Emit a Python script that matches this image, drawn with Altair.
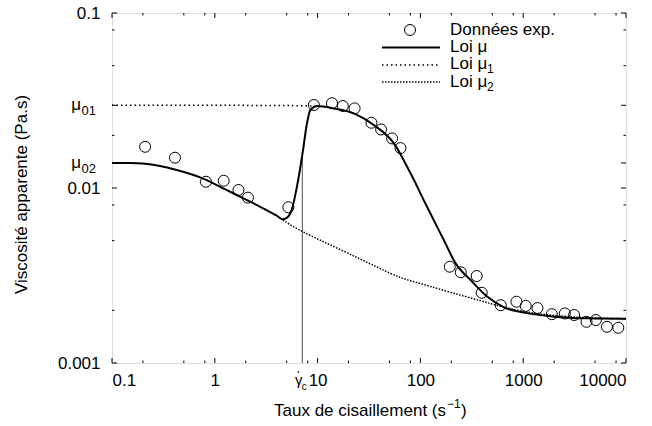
import altair as alt
import pandas as pd

# ---- data ----
gamma_exp = [0.21, 0.41, 0.82, 1.22, 1.70, 2.10, 5.2, 9.2, 13.8, 17.6, 22.9, 33.4, 41.5, 53.1, 64,
             193, 247, 353, 395, 605, 860, 1059, 1377, 1900, 2543, 3130, 4130, 5090, 6530, 8420]
mu_exp = [0.0172, 0.0149, 0.01086, 0.0110, 0.00975, 0.00881, 0.00776, 0.0298, 0.0305, 0.0294, 0.0285,
          0.0236, 0.0216, 0.0192, 0.0169, 0.00355, 0.0033, 0.00314, 0.00252, 0.00214, 0.00224, 0.00212,
          0.00206, 0.0019, 0.00192, 0.00188, 0.00172, 0.00176, 0.00161, 0.00159]

gamma_mu = [0.1, 0.15, 0.2, 0.294, 0.427, 0.72, 1.13, 1.77, 2.77, 4.0, 4.6, 5.1, 5.64, 6.3, 7.22, 7.78, 8.5,
            9.9, 14.4, 22.5, 35.2, 55.2, 80.2, 116, 169, 220, 308, 449, 652, 1021, 2000, 4230, 10000]
mu_mu = [0.0139, 0.0139, 0.0138, 0.01337, 0.01267, 0.0115, 0.01016, 0.0089, 0.00781, 0.00695, 0.00662,
         0.0068, 0.00760, 0.0102, 0.0165, 0.0224, 0.0279, 0.0294, 0.0285, 0.0267, 0.0229, 0.018, 0.01213,
         0.00781, 0.00504, 0.00371, 0.00298, 0.00239, 0.00208, 0.00194, 0.00184, 0.0018, 0.00179]

gamma_mu1 = [0.1, 1, 5, 9.5]
mu_mu1 = [0.0297, 0.0297, 0.0296, 0.0294]

gamma_mu2 = [4.6, 6.8, 16.7, 41, 64, 86, 184, 386, 605, 1014, 1987, 4260, 10000]
mu_mu2 = [0.00656, 0.00566, 0.00445, 0.00345, 0.00306, 0.00292, 0.00256, 0.00227, 0.00210, 0.00196,
          0.00186, 0.00181, 0.00179]

gamma_c = 7.1
mu_c_top = 0.015
mu01 = 0.0297
mu02 = 0.0139

x_major = [0.1, 1, 10, 100, 1000, 10000]
x_minor = [0.2, 0.5, 0.8, 2, 5, 8, 20, 50, 80, 200, 500, 800, 2000, 5000, 8000]
y_major = [0.001, 0.01, 0.1, mu01, mu02]
y_minor = [0.002, 0.005, 0.008, 0.02, 0.05, 0.08]

legend_labels = ["Données exp.", "Loi μ", "Loi μ", "Loi μ"]

# ---- chart ----
W, H = 514, 350
FONT = "Liberation Sans"
FS = 17
xs = alt.Scale(type="log", domain=[0.1, 10000], nice=False)
ys = alt.Scale(type="log", domain=[0.001, 0.1], nice=False)

x_axis = alt.Axis(values=x_major, format="~g", ticks=False, domain=False, grid=False,
                  labelFontSize=FS, labelPadding=9, labelFont=FONT, labelColor="black", title="")
y_axis = alt.Axis(values=[0.001, 0.01, 0.1], format="~g", ticks=False, domain=False, grid=False,
                  labelFontSize=FS, labelPadding=12, labelFont=FONT, labelColor="black",
                  title="Viscosité apparente (Pa.s)", titleFont=FONT, titleFontSize=FS,
                  titleFontWeight="normal", titleColor="black", titleX=-91, titleY=H / 2 + 6,
                  titleAngle=-90, titleBaseline="middle", titleAlign="center")

df_exp = pd.DataFrame({"g": gamma_exp, "m": mu_exp})
df_mu = pd.DataFrame({"g": gamma_mu, "m": mu_mu})
df_mu1 = pd.DataFrame({"g": gamma_mu1, "m": mu_mu1})
df_mu2 = pd.DataFrame({"g": gamma_mu2, "m": mu_mu2})

pts = alt.Chart(df_exp).mark_point(shape="circle", size=121, filled=False, color="black",
                                   strokeWidth=1, opacity=1).encode(
    x=alt.X("g:Q", scale=xs, axis=x_axis), y=alt.Y("m:Q", scale=ys, axis=y_axis))

line_mu = alt.Chart(df_mu).mark_line(color="black", strokeWidth=2, interpolate="monotone").encode(
    x=alt.X("g:Q", scale=xs), y=alt.Y("m:Q", scale=ys))
line_mu1 = alt.Chart(df_mu1).mark_line(color="black", strokeWidth=1.5, strokeDash=[1.5, 3]).encode(
    x=alt.X("g:Q", scale=xs), y=alt.Y("m:Q", scale=ys))
line_mu2 = alt.Chart(df_mu2).mark_line(color="black", strokeWidth=1.5, strokeDash=[1.5, 1.5],
                                       interpolate="basis").encode(
    x=alt.X("g:Q", scale=xs), y=alt.Y("m:Q", scale=ys))

vline = alt.Chart(pd.DataFrame({"g": [gamma_c], "a": [0.001], "b": [mu_c_top]})).mark_rule(
    color="black", strokeWidth=0.7).encode(
    x=alt.X("g:Q", scale=xs), y=alt.Y("a:Q", scale=ys), y2="b:Q")


def xticks(vals, length):
    d = pd.DataFrame({"v": vals})
    bottom = alt.Chart(d).mark_rule(color="black", strokeWidth=1).encode(
        x=alt.X("v:Q", scale=xs), y=alt.value(H), y2=alt.value(H - length))
    top = alt.Chart(d).mark_rule(color="black", strokeWidth=1).encode(
        x=alt.X("v:Q", scale=xs), y=alt.value(0), y2=alt.value(length))
    return [bottom, top]


def yticks(vals, length):
    d = pd.DataFrame({"v": vals})
    left = alt.Chart(d).mark_rule(color="black", strokeWidth=1).encode(
        y=alt.Y("v:Q", scale=ys), x=alt.value(0), x2=alt.value(length))
    right = alt.Chart(d).mark_rule(color="black", strokeWidth=1).encode(
        y=alt.Y("v:Q", scale=ys), x=alt.value(W), x2=alt.value(W - length))
    return [left, right]


ticks = xticks(x_major, 5) + xticks(x_minor, 2.5) + yticks(y_major, 5) + yticks(y_minor, 2.5)

# special axis labels (mu01, mu02, gamma_c)
df_mu0 = pd.DataFrame({"v": [mu01, mu02], "s": ["01", "02"]})
mu_lab = alt.Chart(df_mu0).mark_text(text="μ", font=FONT, fontSize=FS, align="right",
                                     baseline="alphabetic", dy=5).encode(
    y=alt.Y("v:Q", scale=ys), x=alt.value(-31))
mu_sub = alt.Chart(df_mu0).mark_text(font=FONT, fontSize=13, align="right",
                                     baseline="alphabetic", dy=10).encode(
    y=alt.Y("v:Q", scale=ys), x=alt.value(-16), text="s:N")

df_gc = pd.DataFrame({"g": [gamma_c]})
gc_lab = alt.Chart(df_gc).mark_text(text="γ", font=FONT, fontSize=15, align="center",
                                    baseline="alphabetic", dx=-3.5).encode(
    x=alt.X("g:Q", scale=xs), y=alt.value(H + 22))
gc_dot = alt.Chart(df_gc).mark_point(shape="circle", size=3, filled=True, color="black",
                                     opacity=1).encode(
    x=alt.X("g:Q", scale=xs), xOffset=alt.value(-4), y=alt.value(H + 9))
gc_sub = alt.Chart(df_gc).mark_text(text="c", font=FONT, fontSize=10, align="left",
                                    baseline="alphabetic", dx=-0.5).encode(
    x=alt.X("g:Q", scale=xs), y=alt.value(H + 27))

# x-axis title with real superscript
XS = 334
xt = [
    alt.Chart(pd.DataFrame({"k": [0]})).mark_text(text="Taux de cisaillement (s", font=FONT, fontSize=FS,
                                                  align="right", baseline="alphabetic").encode(
        x=alt.value(XS), y=alt.value(H + 53)),
    alt.Chart(pd.DataFrame({"k": [0]})).mark_text(text="−1", font=FONT, fontSize=12,
                                                  align="left", baseline="alphabetic").encode(
        x=alt.value(XS + 1), y=alt.value(H + 45)),
    alt.Chart(pd.DataFrame({"k": [0]})).mark_text(text=")", font=FONT, fontSize=FS,
                                                  align="left", baseline="alphabetic").encode(
        x=alt.value(XS + 15), y=alt.value(H + 53)),
]

# legend
one = pd.DataFrame({"k": [0]})
LX, LT = 338, 22
leg = [
    alt.Chart(one).mark_point(shape="circle", size=121, filled=False, color="black", strokeWidth=1,
                              opacity=1).encode(x=alt.value(298), y=alt.value(LT - 5)),
    alt.Chart(one).mark_rule(color="black", strokeWidth=2).encode(
        x=alt.value(270), x2=alt.value(328), y=alt.value(LT + 12.5)),
    alt.Chart(one).mark_rule(color="black", strokeWidth=1.5, strokeDash=[1.5, 3]).encode(
        x=alt.value(270), x2=alt.value(328), y=alt.value(LT + 30)),
    alt.Chart(one).mark_rule(color="black", strokeWidth=1.5, strokeDash=[1.5, 1.5]).encode(
        x=alt.value(270), x2=alt.value(328), y=alt.value(LT + 47)),
]
for i, lab in enumerate(legend_labels):
    leg.append(alt.Chart(one).mark_text(text=lab, font=FONT, fontSize=FS, align="left",
                                        baseline="alphabetic").encode(
        x=alt.value(LX), y=alt.value(LT + 17.2 * i)))
for i, sub in [(2, "1"), (3, "2")]:
    leg.append(alt.Chart(one).mark_text(text=sub, font=FONT, fontSize=12, align="left",
                                        baseline="alphabetic").encode(
        x=alt.value(LX + 37), y=alt.value(LT + 17.2 * i + 4)))

chart = alt.layer(pts, line_mu, line_mu1, line_mu2, vline, *ticks, mu_lab, mu_sub, gc_lab, gc_dot, gc_sub,
                  *xt, *leg).properties(
    width=W, height=H, autosize=alt.AutoSizeParams(type="none"),
    padding={"left": 112, "top": 13, "right": 26, "bottom": 63}
).configure_view(stroke="black", strokeWidth=2).configure(background="white")

chart.save("out.html", embed_options={"renderer": "svg", "actions": False})
